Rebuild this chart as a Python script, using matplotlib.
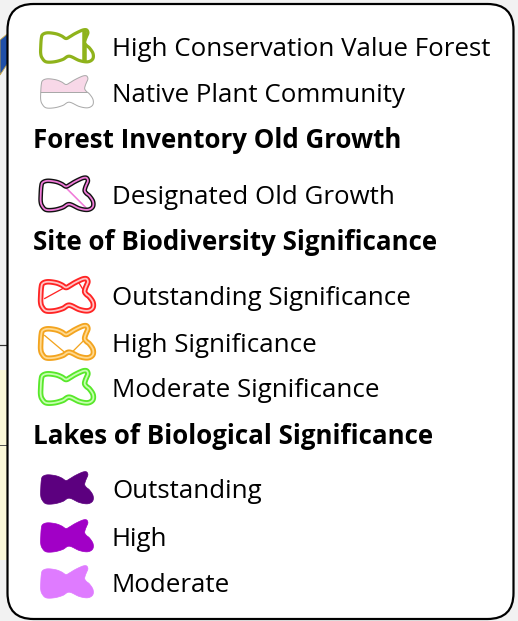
import numpy as np
import matplotlib
matplotlib.use("Agg")
import matplotlib.pyplot as plt
from matplotlib.patches import FancyBboxPatch, Polygon, Rectangle

W, H = 518, 621
DPI = 100

# ---- legend content ----
labels = ["High Conservation Value Forest", "Native Plant Community",
          "Forest Inventory Old Growth", "Designated Old Growth",
          "Site of Biodiversity Significance", "Outstanding Significance",
          "High Significance", "Moderate Significance",
          "Lakes of Biological Significance", "Outstanding", "High", "Moderate"]
row_kinds = ["hcvf", "npc", "header", "dog", "header", "sbs", "sbs", "sbs",
             "header", "lake", "lake", "lake"]
main_colors = ["#8fb31b", "#a9a9a9", None, "#111111", None, "#ff2424",
               "#f3a41f", "#58e82a", None, "#5c007f", "#a100c6", "#df7bff"]
inner_colors = [None, "#f8d8e8", None, "#f07ad8", None, "#ffc4c4",
                "#ffd98f", "#c6ffb0", None, None, None, None]
row_baselines = [56, 102, 148, 204, 250, 305, 352, 397, 444, 498, 546, 592]

# blob template (icon geometry, px units, y down)
blob_pts = np.array([
    (0, 18), (0.6, 9), (2, 5), (7, 3.3), (15.3, 4.3), (21, 6.5), (25.3, 9),
    (29.5, 7), (33.6, 4.5), (39, 1.8), (43, 0.3), (46, 0.5), (47.2, 3.3),
    (45.8, 7), (44.6, 10), (44, 13.3), (45.8, 16), (48.8, 18.5), (52.3, 24),
    (52, 29.5), (47, 32.3), (38.6, 31), (28.6, 26.7), (22, 30), (13.6, 32.3),
    (5.3, 32.3), (1.3, 28.3), (0, 24)], float)


def smooth_closed(p, n=12):
    out = []
    m = len(p)
    for i in range(m):
        p0, p1, p2, p3 = p[(i - 1) % m], p[i], p[(i + 1) % m], p[(i + 2) % m]
        for t in np.linspace(0, 1, n, endpoint=False):
            t2, t3 = t * t, t * t * t
            out.append(0.5 * ((2 * p1) + (-p0 + p2) * t +
                              (2 * p0 - 5 * p1 + 4 * p2 - p3) * t2 +
                              (-p0 + 3 * p1 - 3 * p2 + p3) * t3))
    return np.array(out)


blob = smooth_closed(blob_pts)

fig = plt.figure(figsize=(W / DPI, H / DPI), dpi=DPI)
fig.patch.set_facecolor("#f2f2f2")
ax = fig.add_axes([0, 0, 1, 1])
ax.set_xlim(0, W)
ax.set_ylim(H, 0)
ax.axis("off")

px = 0.72  # points per pixel

# a few background map fragments outside the legend
ax.add_patch(Polygon([(0, 40), (12, 30), (10, 60), (0, 75)], closed=True,
                     facecolor="#1f4fa8", edgecolor="#c9a640", lw=0.6, zorder=1))
ax.add_patch(Rectangle((0, 370), 10, 190, facecolor="#fbf8d8", edgecolor="none", zorder=1))
ax.plot([0, 10], [345, 345], color="#333333", lw=1.2 * px, zorder=1)
ax.plot([0, 10], [445, 445], color="#555555", lw=1.0 * px, zorder=1)

# legend box
ax.add_patch(FancyBboxPatch((7.5, 4), 506, 615, boxstyle="round,pad=0,rounding_size=26",
                            facecolor="white", edgecolor="black", lw=2.2 * px, zorder=2))

ICON_X = 40.7
REG_FS = 18.6
BOLD_FS = 18.6
FONT = ["Open Sans", "DejaVu Sans"]

for lab, kind, c1, c2, yb in zip(labels, row_kinds, main_colors, inner_colors, row_baselines):
    if kind == "header":
        ax.text(33, yb, lab, fontsize=BOLD_FS, fontweight="bold", family=FONT,
                va="baseline", ha="left", color="black", zorder=5)
        continue
    ax.text(112, yb, lab, fontsize=REG_FS, family=FONT, va="baseline", ha="left",
            color="black", zorder=5)
    top = yb - 26.5
    pts = blob + np.array([ICON_X, top])
    poly_kw = dict(closed=True, zorder=4)
    if kind == "lake":
        ax.add_patch(Polygon(pts, facecolor=c1, edgecolor=c1, lw=0.5, **poly_kw))
    elif kind == "hcvf":
        shape = Polygon(pts, facecolor="white", edgecolor="none", **poly_kw)
        ax.add_patch(shape)
        ln, = ax.plot([ICON_X + 43.5, ICON_X + 43.5], [top - 2, top + 36],
                      color=c1, lw=4.5 * px, zorder=4, solid_capstyle="butt")
        ln.set_clip_path(shape)
        ax.add_patch(Polygon(pts, facecolor="none", edgecolor=c1, lw=3.2 * px, **poly_kw))
    elif kind == "npc":
        shape = Polygon(pts, facecolor="white", edgecolor="none", **poly_kw)
        ax.add_patch(shape)
        band = Rectangle((ICON_X - 2, top - 2), 60, 18, facecolor=c2,
                         edgecolor="none", zorder=4)
        ax.add_patch(band)
        band.set_clip_path(shape)
        ln, = ax.plot([ICON_X - 2, ICON_X + 58], [top + 16, top + 16],
                      color=c1, lw=1.0 * px, zorder=4)
        ln.set_clip_path(shape)
        ax.add_patch(Polygon(pts, facecolor="none", edgecolor=c1, lw=1.0 * px, **poly_kw))
    elif kind == "dog":
        ax.plot([ICON_X + 23, ICON_X + 46], [top + 8, top + 31], color=c2,
                lw=1.6 * px, zorder=4)
        ax.add_patch(Polygon(pts, facecolor="none", edgecolor=c1, lw=4.6 * px, **poly_kw))
        ax.add_patch(Polygon(pts, facecolor="none", edgecolor=c2, lw=1.8 * px, **poly_kw))
    elif kind == "sbs":
        if c1 == "#ff2424":
            segs = [([ICON_X + 4, ICON_X + 24], [top + 20, top + 9]),
                    ([ICON_X + 38, ICON_X + 49], [top + 4, top + 22])]
        elif c1 == "#f3a41f":
            segs = [([ICON_X + 4, ICON_X + 23], [top + 10, top + 26]),
                    ([ICON_X + 32, ICON_X + 44], [top + 26, top + 14])]
        else:
            segs = []
        for xs, ys in segs:
            ax.plot(xs, ys, color=c1, lw=1.3 * px, zorder=4)
        ax.add_patch(Polygon(pts, facecolor="none", edgecolor=c1, lw=5.5 * px, **poly_kw))
        ax.add_patch(Polygon(pts, facecolor="none", edgecolor=c2, lw=1.8 * px, **poly_kw))

fig.savefig("out.png", dpi=DPI, facecolor=fig.get_facecolor())
